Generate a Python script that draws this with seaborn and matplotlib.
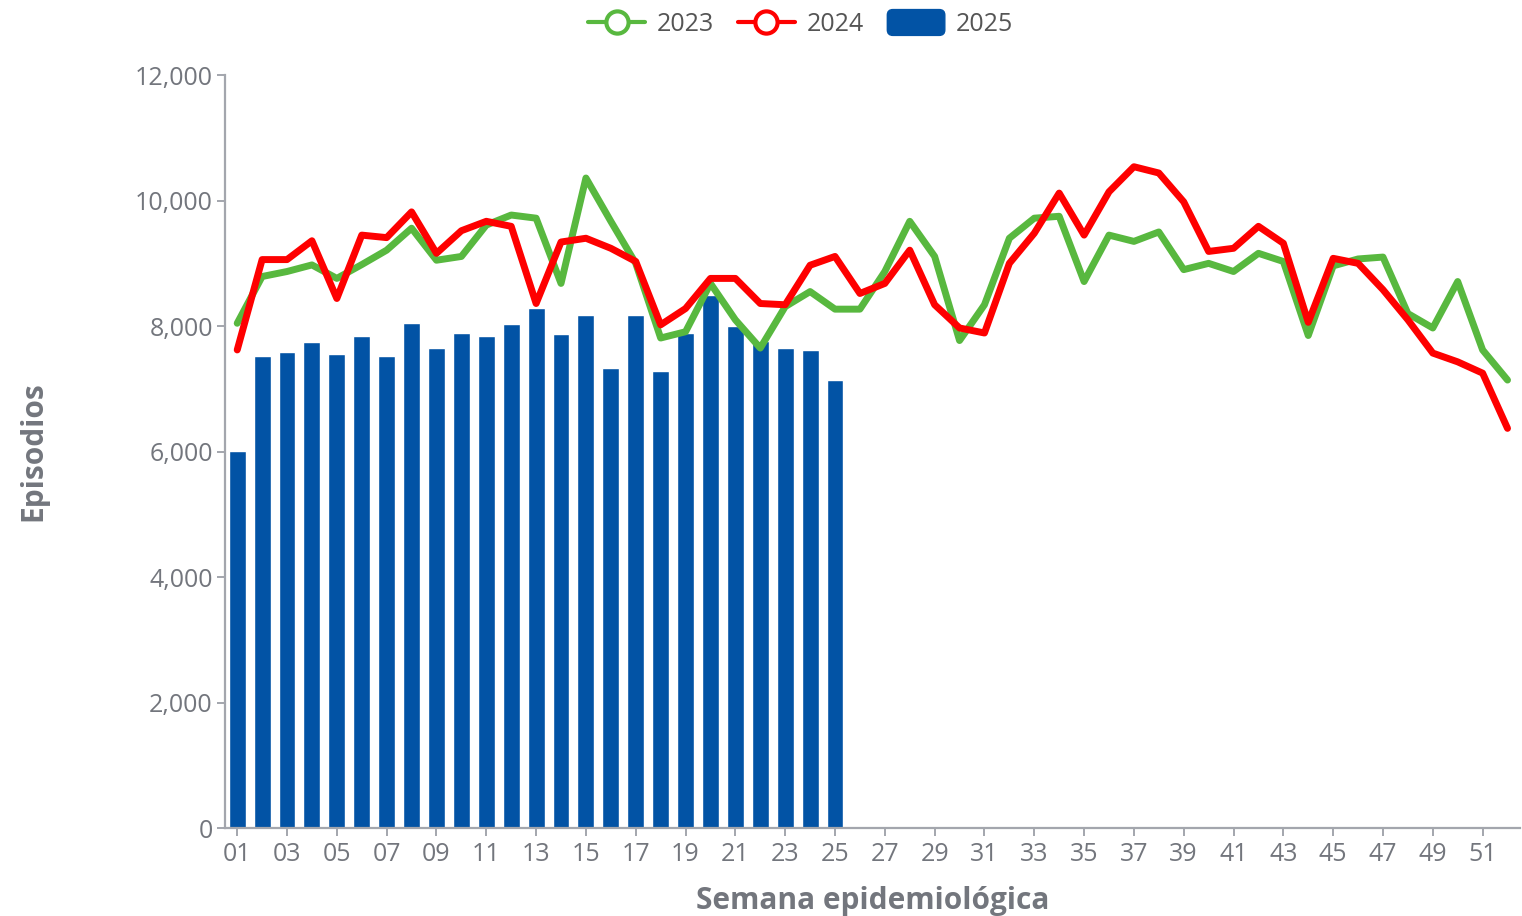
import pandas as pd
import matplotlib
matplotlib.use("Agg")
import matplotlib.pyplot as plt
import seaborn as sns
from matplotlib.lines import Line2D
from matplotlib.patches import Patch, FancyBboxPatch
from matplotlib.legend_handler import HandlerPatch

# weekly episodes
weeks = list(range(1, 53))
y2023 = [8045, 8790, 8870, 8975, 8760, 8980, 9210, 9560, 9050, 9110,
         9610, 9770, 9720, 8680, 10360, 9670, 9000, 7810, 7910, 8680,
         8100, 7650, 8310, 8550, 8270, 8270, 8870, 9670, 9110, 7770,
         8340, 9400, 9720, 9750, 8710, 9450, 9350, 9500, 8900, 9000,
         8870, 9160, 9030, 7850, 8960, 9070, 9100, 8200, 7970, 8710,
         7620, 7140]
y2024 = [7620, 9060, 9060, 9360, 8440, 9450, 9410, 9820, 9160, 9520,
         9670, 9590, 8360, 9340, 9400, 9240, 9030, 8020, 8280, 8760,
         8760, 8360, 8340, 8970, 9110, 8520, 8680, 9210, 8340, 7970,
         7890, 9000, 9480, 10120, 9450, 10140, 10540, 10440, 9980, 9190,
         9240, 9590, 9320, 8060, 9080, 9000, 8580, 8100, 7570, 7430,
         7250, 6370]
y2025 = [6010, 7520, 7590, 7740, 7560, 7850, 7520, 8050, 7650, 7890,
         7850, 8040, 8290, 7870, 8180, 7330, 8170, 7290, 7890, 8490,
         8000, 7770, 7650, 7620, 7140]
tick_weeks = list(range(1, 52, 2))
tick_labels = [f"{w:02d}" for w in tick_weeks]

green = "#58b83f"
red = "#fe0000"
blue = "#0253a5"
grey = "#73767d"

lines = pd.DataFrame({"week": weeks, "2023": y2023, "2024": y2024})
bars = pd.DataFrame({"week": weeks[:len(y2025)], "2025": y2025})

sns.set_style("white")
plt.rcParams["font.family"] = ["Open Sans", "DejaVu Sans"]

fig = plt.figure(figsize=(15.22, 9.16), dpi=100)
ax = fig.add_axes([0.148, 0.096, 0.851, 0.822])

sns.barplot(data=bars, x="week", y="2025", native_scale=True, width=0.68,
            color=blue, saturation=1, ax=ax, zorder=1)
sns.lineplot(data=lines, x="week", y="2023", color=green, linewidth=5, ax=ax, zorder=2)
sns.lineplot(data=lines, x="week", y="2024", color=red, linewidth=5, ax=ax, zorder=3)

ax.set_xlim(0.52, 52.52)
ax.set_ylim(0, 12000)
ax.set_yticks(range(0, 12001, 2000))
ax.set_yticklabels([f"{v:,}" for v in range(0, 12001, 2000)])
ax.set_xticks(tick_weeks)
ax.set_xticklabels(tick_labels)

for s in ["top", "right"]:
    ax.spines[s].set_visible(False)
for s in ["left", "bottom"]:
    ax.spines[s].set_color("#a3a6ad")
    ax.spines[s].set_linewidth(1.6)
ax.tick_params(axis="both", which="major", direction="out", length=6, width=1.4,
               color="#a3a6ad", labelcolor=grey, labelsize=18, left=True, bottom=True)
ax.tick_params(axis="y", pad=3)
ax.tick_params(axis="x", pad=4)

ax.set_xlabel("Semana epidemiológica", fontsize=21.5, fontweight="bold", color=grey, labelpad=14)
ax.set_ylabel("Episodios", fontsize=21.5, fontweight="bold", color=grey, labelpad=62)


def rounded_box(legend, orig_handle, xdescent, ydescent, width, height, fontsize):
    return FancyBboxPatch((-xdescent, -ydescent - 3), width, height + 6,
                          boxstyle="round,pad=0,rounding_size=4")


handles = [
    Line2D([], [], color=green, linewidth=3, marker="o", markersize=16,
           markerfacecolor="white", markeredgewidth=3),
    Line2D([], [], color=red, linewidth=3, marker="o", markersize=16,
           markerfacecolor="white", markeredgewidth=3),
    Patch(facecolor=blue, edgecolor=blue),
]
fig.legend(handles, ["2023", "2024", "2025"], loc="center", bbox_to_anchor=(0.526, 0.973),
           ncol=3, frameon=False, fontsize=18, labelcolor="#555555",
           handlelength=2.3, handletextpad=0.45, columnspacing=0.95,
           handler_map={Patch: HandlerPatch(patch_func=rounded_box)})

fig.savefig("out.png", dpi=100)
